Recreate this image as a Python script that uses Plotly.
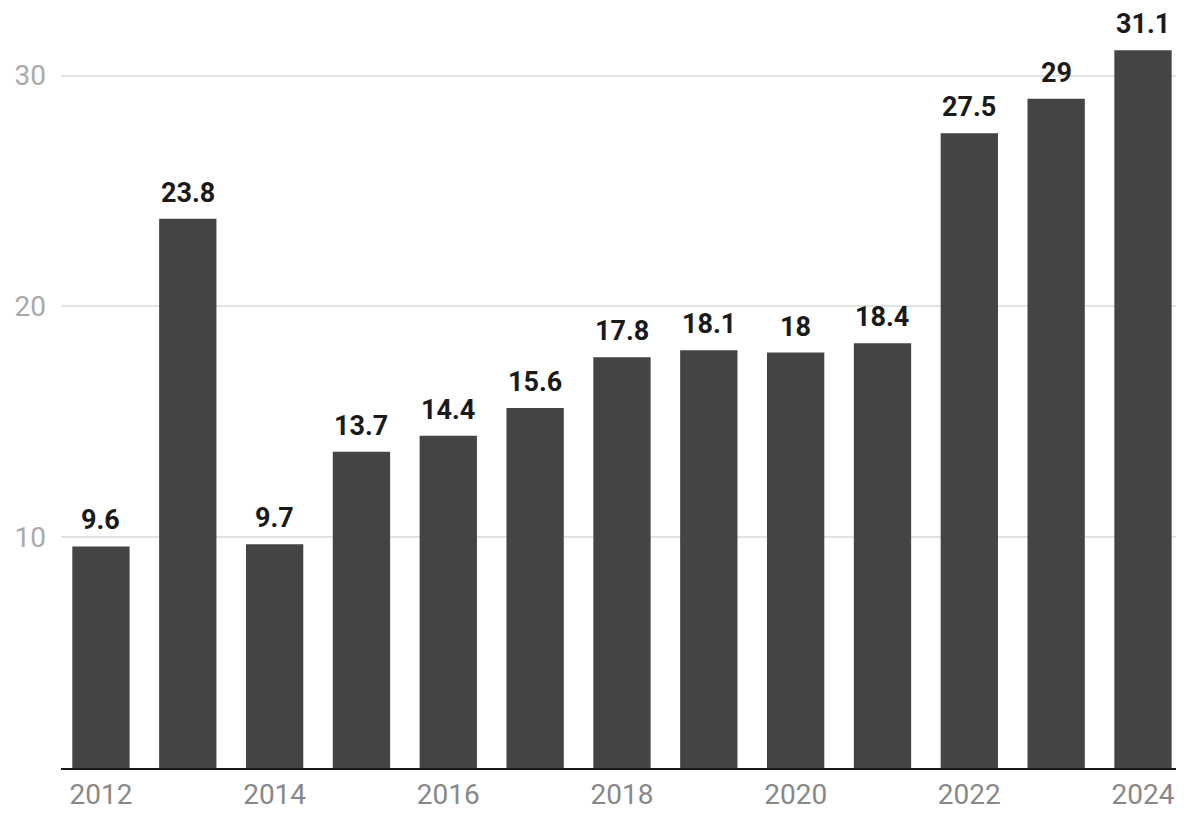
import plotly.graph_objects as go

# yearly values
years = [2012, 2013, 2014, 2015, 2016, 2017, 2018, 2019, 2020, 2021, 2022, 2023, 2024]
values = [9.6, 23.8, 9.7, 13.7, 14.4, 15.6, 17.8, 18.1, 18, 18.4, 27.5, 29, 31.1]
y_ticks = [10, 20, 30]
x_ticks = [2012, 2014, 2016, 2018, 2020, 2022, 2024]

fig = go.Figure()
fig.add_trace(go.Bar(x=years, y=values, marker=dict(color="#444444", line=dict(width=0)),
                     hoverinfo="skip"))

# value labels above the bars
for yr, v in zip(years, values):
    fig.add_annotation(x=yr, y=v, text="<b>{:g}</b>".format(v), showarrow=False,
                       yanchor="bottom", yshift=9, borderpad=0,
                       font=dict(family="Roboto", size=27, color="#1a1a1a"))

# page body has an 8px margin, so the figure is shifted by 8px; keep it inside the window
fig.update_layout(
    width=1168, height=814,
    margin=dict(l=53, r=0, t=0, b=54),
    paper_bgcolor="white", plot_bgcolor="white",
    bargap=0.34, showlegend=False,
    font=dict(family="Roboto"),
)
fig.update_xaxes(range=[2011.54, 2024.38], tickvals=x_ticks, ticks="",
                 tickfont=dict(size=28, color="#888888"), automargin=False,
                 ticklabeloverflow="allow",
                 showline=True, linecolor="#1a1a1a", linewidth=2,
                 showgrid=False, zeroline=False)
fig.update_yaxes(range=[0, 32.93], tickvals=y_ticks, ticks="", automargin=False,
                 tickfont=dict(size=28, color="#aaaaaa"), ticklabelstandoff=14,
                 showgrid=True, gridcolor="#e3e3e3", gridwidth=2,
                 zeroline=False, showline=False)

fig.write_html("out.html")
